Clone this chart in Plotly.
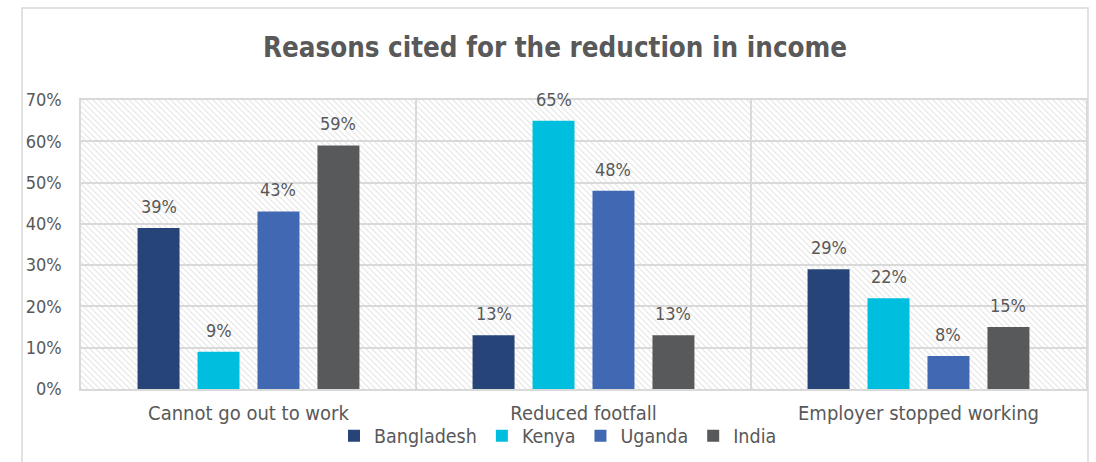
import base64
import plotly.graph_objects as go

categories = ["Cannot go out to work", "Reduced footfall", "Employer stopped working"]
countries = ["Bangladesh", "Kenya", "Uganda", "India"]
bangladesh = [39, 13, 29]
kenya = [9, 65, 22]
uganda = [43, 48, 8]
india = [59, 13, 15]
series = [bangladesh, kenya, uganda, india]
colors = ["#264478", "#00BFDE", "#4169B3", "#58595B"]
y_ticks = [0, 10, 20, 30, 40, 50, 60, 70]

FONT = "DejaVu Sans Condensed, Open Sans, sans-serif"
TXT = "#595959"
GRID = "#D9D9D9"

W, H = 1096, 462
ML, MR, MT, MB = 81, 10, 100, 73
PW, PH = W - ML - MR, H - MT - MB

fig = go.Figure()
for name, vals, col in zip(countries, series, colors):
    fig.add_trace(go.Bar(name=name, x=categories, y=vals, marker_color=col,
                         marker_line_width=0))

# data labels
slot = (1 - 0.284) * (PW / len(categories)) / len(countries)
for i, vals in enumerate(series):
    off = (i - (len(countries) - 1) / 2) * slot
    for c, v in zip(categories, vals):
        fig.add_annotation(x=c, y=v, text=f"{v}%", showarrow=False,
                           xshift=off, yshift=9, yanchor="bottom",
                           font=dict(family=FONT, size=18, color=TXT))

# hatched plot background
svg = (f'<svg xmlns="http://www.w3.org/2000/svg" width="{PW}" height="{PH}">'
       '<defs><pattern id="p" patternUnits="userSpaceOnUse" width="6" height="6">'
       '<path d="M-1,-1 L7,7 M-1,5 L1,7 M5,-1 L7,1" stroke="#E6E6E6" stroke-width="1.2"/>'
       '</pattern></defs>'
       f'<rect width="{PW}" height="{PH}" fill="white"/>'
       f'<rect width="{PW}" height="{PH}" fill="url(#p)"/></svg>')
uri = "data:image/svg+xml;base64," + base64.b64encode(svg.encode()).decode()
fig.add_layout_image(source=uri, xref="paper", yref="paper", x=0, y=1,
                     sizex=1, sizey=1, sizing="stretch", xanchor="left",
                     yanchor="top", layer="below")

# outer chart border
fig.add_shape(type="rect", xref="paper", yref="paper",
              x0=(22 - ML) / PW, x1=(1088 - ML) / PW,
              y0=-0.5, y1=(H - MB - 8) / PH,
              line=dict(color=GRID, width=1.5), layer="below")

fig.update_layout(
    width=W, height=H,
    margin=dict(l=ML, r=MR, t=MT, b=MB, autoexpand=False),
    paper_bgcolor="white", plot_bgcolor="rgba(0,0,0,0)",
    barmode="group", bargap=0.284, bargroupgap=0.3,
    title=dict(text="<b>Reasons cited for the reduction in income</b>",
               x=(555) / W, xanchor="center", y=1 - 47 / H, yanchor="middle",
               font=dict(family=FONT, size=27.5, color=TXT)),
    font=dict(family=FONT, size=18, color=TXT),
    legend=dict(orientation="h", x=(558 - ML) / PW, xanchor="center",
                y=-(436 - (H - MB)) / PH, yanchor="middle",
                font=dict(family=FONT, size=19.5, color=TXT),
                itemwidth=30, tracegroupgap=0, bgcolor="rgba(0,0,0,0)"),
    xaxis=dict(tickson="boundaries", showgrid=True, gridcolor=GRID, gridwidth=1.5,
               showline=True, linecolor=GRID, linewidth=1.5, mirror=True,
               ticks="", ticklabelstandoff=5, automargin=False,
               tickfont=dict(family=FONT, size=20, color=TXT)),
    yaxis=dict(range=[0, 70], tickvals=y_ticks,
               ticktext=[f"{t}%" for t in y_ticks],
               showgrid=True, gridcolor=GRID, gridwidth=1.5,
               showline=True, linecolor=GRID, linewidth=1.5, mirror=True,
               zeroline=False, ticks="", ticklabelstandoff=14, automargin=False,
               tickfont=dict(family=FONT, size=18, color=TXT)),
)

fig.write_html("out.html")
